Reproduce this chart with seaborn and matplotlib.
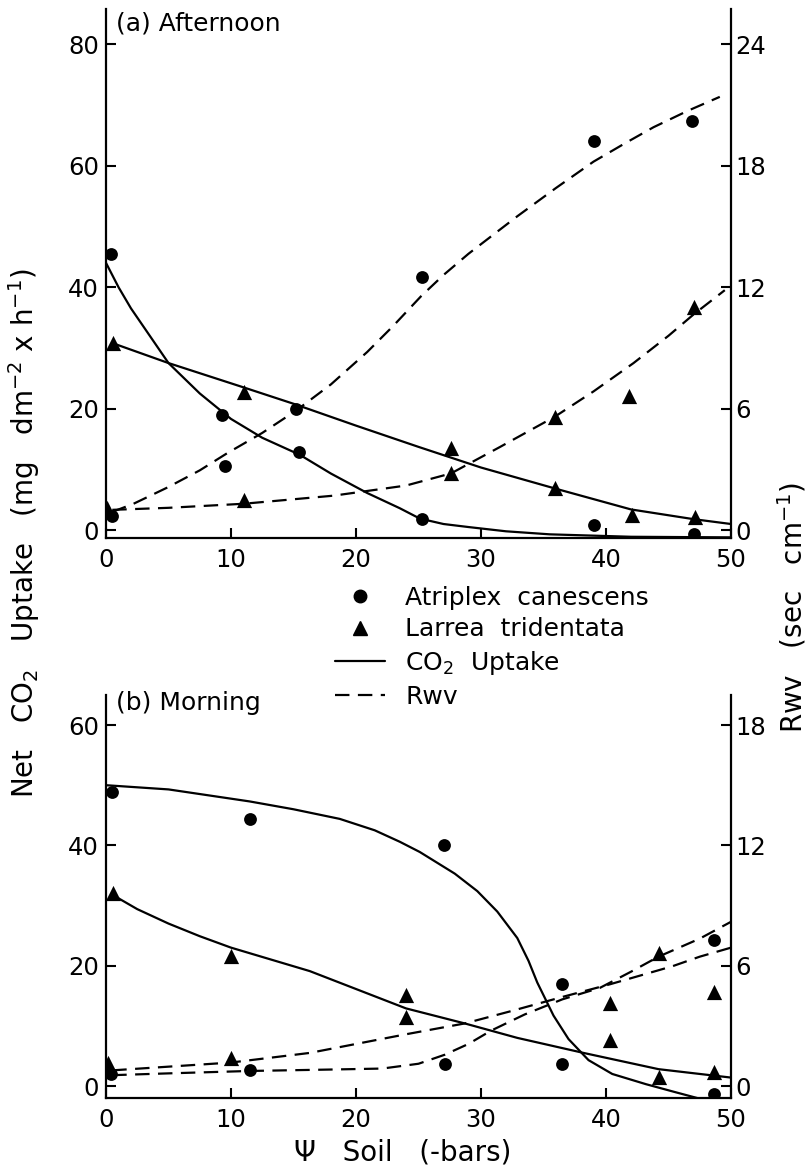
import matplotlib
matplotlib.use("Agg")
import matplotlib.pyplot as plt
import seaborn as sns
from matplotlib.lines import Line2D

# ---------------- (a) Afternoon ----------------
# measured points: net CO2 uptake (mg dm-2 h-1, left axis), Rwv (sec cm-1, right axis)
a_atr_co2_x = [0.4, 9.3, 15.4, 25.3, 39.0, 47.0]
a_atr_co2_y = [45.5, 19.0, 12.8, 1.8, 0.8, -0.6]
a_atr_rwv_x = [0.5, 9.5, 15.2, 25.3, 39.0, 46.9]
a_atr_rwv_y = [0.7, 3.15, 6.0, 12.5, 19.2, 20.2]
a_lar_co2_x = [0.6, 11.0, 27.6, 35.9, 42.1, 47.1]
a_lar_co2_y = [30.8, 22.7, 13.5, 6.9, 2.5, 2.1]
a_lar_rwv_x = [0.1, 11.0, 27.6, 35.9, 41.8, 47.0]
a_lar_rwv_y = [1.1, 1.5, 2.8, 5.6, 6.6, 11.0]
# hand-fitted curves as drawn
a_atr_co2_fit_x = [0, 1, 2, 3.5, 5, 7.5, 10, 12.5, 15.5, 18, 20.9, 23.5, 25.1, 27, 29, 32, 35.5, 42, 50]
a_atr_co2_fit_y = [44, 40, 36.5, 32, 27.5, 22.5, 18.3, 15.2, 12.4, 9.3, 6.1, 3.6, 1.9, 1.0, 0.5, -0.2, -0.7, -1.1, -1.2]
a_lar_co2_fit_x = [0.5, 5, 11, 15, 20, 25, 30, 36, 42, 47, 50]
a_lar_co2_fit_y = [30.8, 27.5, 23.5, 20.8, 17.2, 13.7, 10.3, 6.8, 3.4, 1.8, 1.0]
a_atr_rwv_fit_x = [0.5, 2.2, 4.9, 7.5, 9.7, 12.5, 15.2, 18, 20.9, 23, 25.2, 27, 29, 32.9, 36, 39, 41.5, 43.8, 46.5, 49.1]
a_atr_rwv_fit_y = [0.9, 1.3, 2.1, 2.95, 3.8, 4.8, 5.9, 7.2, 8.8, 10.1, 11.55, 12.6, 13.65, 15.5, 16.9, 18.2, 19.1, 19.9, 20.7, 21.4]
a_lar_rwv_fit_x = [0.5, 5, 11, 18.2, 24, 27.6, 31.5, 35.9, 39, 42.2, 45, 47, 49.5]
a_lar_rwv_fit_y = [1.0, 1.1, 1.3, 1.7, 2.2, 2.8, 4.1, 5.6, 6.85, 8.25, 9.6, 10.65, 11.85]

# ---------------- (b) Morning ----------------
b_atr_co2_x = [0.5, 11.5, 27.0, 36.5, 48.6]
b_atr_co2_y = [48.9, 44.3, 40.0, 3.6, -1.3]
b_atr_rwv_x = [0.4, 11.5, 27.1, 36.5, 48.6]
b_atr_rwv_y = [0.6, 0.81, 1.08, 5.07, 7.29]
b_lar_co2_x = [0.6, 10.0, 24.0, 40.3, 44.2, 48.6]
b_lar_co2_y = [32.1, 21.6, 15.2, 7.6, 1.5, 2.4]
b_lar_rwv_x = [0.2, 10.0, 24.0, 40.3, 44.2, 48.6]
b_lar_rwv_y = [1.17, 1.38, 3.42, 4.14, 6.63, 4.71]
b_atr_co2_fit_x = [0, 5, 11.5, 15, 18.7, 21.5, 23.5, 25.1, 27.9, 29.7, 31.3, 32.9, 33.8, 34.5, 35.8, 37, 38.6, 40.5, 43.2, 45.5, 47.3]
b_atr_co2_fit_y = [50, 49.3, 47.3, 46, 44.4, 42.5, 40.6, 38.9, 35.3, 32.4, 29, 24.6, 20.8, 17.2, 11.7, 7.8, 4.3, 2.0, 0.3, -1.0, -2.0]
b_lar_co2_fit_x = [1.0, 2.5, 5, 7.5, 10, 16.3, 24, 28.7, 32.9, 38.2, 44.2, 50]
b_lar_co2_fit_y = [31.2, 29.4, 27.0, 24.9, 23.0, 19.1, 12.9, 10.4, 8.0, 5.5, 2.8, 1.4]
b_atr_rwv_fit_x = [0.5, 5, 11.5, 17, 22.1, 25, 27.1, 29, 30.8, 33.5, 36.5, 39.5, 42, 44.2, 47.5, 50]
b_atr_rwv_fit_y = [0.54, 0.63, 0.75, 0.81, 0.87, 1.11, 1.56, 2.1, 2.76, 3.57, 4.32, 4.89, 5.7, 6.45, 7.35, 8.19]
b_lar_rwv_fit_x = [0.5, 10, 16.3, 24, 28.7, 32.5, 36.5, 40.3, 45.3, 47.5, 50]
b_lar_rwv_fit_y = [0.78, 1.17, 1.65, 2.58, 3.12, 3.75, 4.44, 5.07, 5.97, 6.45, 6.9]

x_ticks = [0, 10, 20, 30, 40, 50]
a_left_ticks = [0, 20, 40, 60, 80]
a_right_ticks = [0, 6, 12, 18, 24]
b_left_ticks = [0, 20, 40, 60]
b_right_ticks = [0, 6, 12, 18]

legend_labels = ["Atriplex  canescens", "Larrea  tridentata", "CO$_2$  Uptake", "Rwv"]

# ---------------- style ----------------
sns.set_style("ticks")
plt.rcParams["font.family"] = ["DejaVu Sans"]
plt.rcParams.update({
    "axes.edgecolor": "black", "text.color": "black", "axes.labelcolor": "black",
    "xtick.color": "black", "ytick.color": "black", "axes.linewidth": 1.6,
})

LW = 1.6
DASH = (0, (6.5, 3.8))
FS_TICK = 17.5

fig = plt.figure(figsize=(8.11, 11.68), dpi=100)
ax_a = fig.add_axes([0.1307, 0.5394, 0.7707, 0.4529])
ax_b = fig.add_axes([0.1307, 0.0599, 0.7707, 0.3451])


def panel(ax, co2_pts, rwv_pts, co2_fits, rwv_fits, ylim, lticks, rticks, title, title_y):
    ax2 = ax.twinx()
    for fx, fy in co2_fits:
        sns.lineplot(x=fx, y=fy, ax=ax, color="black", lw=LW, sort=False, estimator=None)
    for fx, fy in rwv_fits:
        sns.lineplot(x=fx, y=fy, ax=ax2, color="black", lw=LW, sort=False, estimator=None,
                     linestyle=DASH)
    for (px, py, mk, s) in co2_pts:
        sns.scatterplot(x=px, y=py, ax=ax, color="black", marker=mk, s=s, linewidth=0, zorder=5)
    for (px, py, mk, s) in rwv_pts:
        sns.scatterplot(x=px, y=py, ax=ax2, color="black", marker=mk, s=s, linewidth=0, zorder=5)
    ax.set_xlim(0, 50)
    ax.set_ylim(*ylim)
    ax2.set_ylim(ylim[0] * 0.3, ylim[1] * 0.3)
    ax.set_xticks(x_ticks)
    ax.set_yticks(lticks)
    ax2.set_yticks(rticks)
    ax.set_xticklabels([str(v) for v in x_ticks])
    ax.set_yticklabels([str(v) for v in lticks])
    ax2.set_yticklabels([str(v) for v in rticks])
    ax.tick_params(axis="both", direction="in", length=7, width=1.5, labelsize=FS_TICK,
                   top=False, right=False)
    ax.tick_params(axis="y", pad=5)
    ax.tick_params(axis="x", pad=7)
    ax2.tick_params(axis="y", direction="in", length=7, width=1.5, labelsize=FS_TICK, pad=3)
    ax.spines["top"].set_visible(False)
    ax.spines["right"].set_visible(False)
    ax2.spines["top"].set_visible(False)
    ax2.spines["left"].set_visible(False)
    ax2.spines["bottom"].set_visible(False)
    for sp in ["left", "bottom"]:
        ax.spines[sp].set_linewidth(LW)
    ax2.spines["right"].set_linewidth(LW)
    ax.set_xlabel("")
    ax.set_ylabel("")
    ax2.set_ylabel("")
    ax.text(0.016, title_y, title, transform=ax.transAxes, ha="left", va="center", fontsize=18)
    ax.patch.set_visible(False)
    return ax2


panel(ax_a,
      [(a_atr_co2_x, a_atr_co2_y, "o", 85), (a_lar_co2_x, a_lar_co2_y, "^", 120)],
      [(a_atr_rwv_x, a_atr_rwv_y, "o", 85), (a_lar_rwv_x, a_lar_rwv_y, "^", 120)],
      [(a_atr_co2_fit_x, a_atr_co2_fit_y), (a_lar_co2_fit_x, a_lar_co2_fit_y)],
      [(a_atr_rwv_fit_x, a_atr_rwv_fit_y), (a_lar_rwv_fit_x, a_lar_rwv_fit_y)],
      (-1.3, 85.8), a_left_ticks, a_right_ticks, "(a) Afternoon", 0.9735)

panel(ax_b,
      [(b_atr_co2_x, b_atr_co2_y, "o", 85), (b_lar_co2_x, b_lar_co2_y, "^", 120)],
      [(b_atr_rwv_x, b_atr_rwv_y, "o", 85), (b_lar_rwv_x, b_lar_rwv_y, "^", 120)],
      [(b_atr_co2_fit_x, b_atr_co2_fit_y), (b_lar_co2_fit_x, b_lar_co2_fit_y)],
      [(b_atr_rwv_fit_x, b_atr_rwv_fit_y), (b_lar_rwv_fit_x, b_lar_rwv_fit_y)],
      (-2.0, 65.0), b_left_ticks, b_right_ticks, "(b) Morning", 0.980)

# axis labels
fig.text(24 / 811, 1 - 533 / 1168,
         "Net   CO$_2$   Uptake   (mg   dm$^{-2}$ x h$^{-1}$)",
         rotation=90, ha="center", va="center", fontsize=20)
fig.text(792 / 811, 1 - 607 / 1168, "Rwv   (sec   cm$^{-1}$)",
         rotation=90, ha="center", va="center", fontsize=20)
fig.text(403 / 811, 1 - 1153 / 1168, "\u03a8   Soil   (-bars)",
         ha="center", va="center", fontsize=20)

# legend
handles = [
    Line2D([], [], color="black", marker="o", ls="none", markersize=9),
    Line2D([], [], color="black", marker="^", ls="none", markersize=10),
    Line2D([], [], color="black", lw=LW),
    Line2D([], [], color="black", lw=LW, ls=DASH),
]
fig.legend(handles, legend_labels, loc="upper left", bbox_to_anchor=(335 / 811, 1 - 586 / 1168),
           frameon=False, fontsize=18, handlelength=2.0, handletextpad=0.8,
           labelspacing=0.3, borderpad=0, borderaxespad=0)

fig.savefig("out.png", dpi=100)
